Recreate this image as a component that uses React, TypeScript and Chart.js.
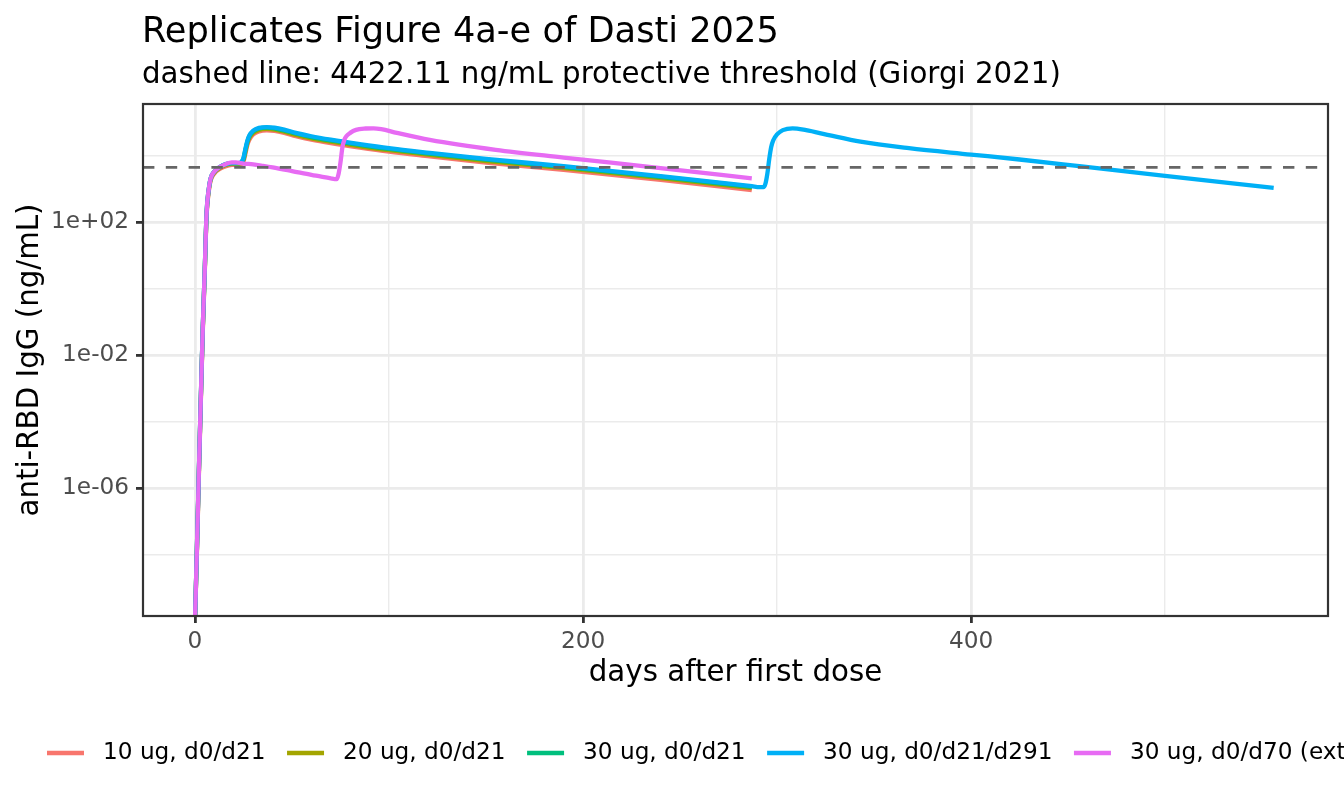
import React, { useEffect, useRef } from 'react'
import { Chart, registerables } from 'chart.js'

Chart.register(...registerables)

const FONT = '"DejaVu Sans", Verdana, sans-serif'

const TITLE = 'Replicates Figure 4a-e of Dasti 2025'
const SUBTITLE = 'dashed line: 4422.11 ng/mL protective threshold (Giorgi 2021)'
const X_TITLE = 'days after first dose'
const Y_TITLE = 'anti-RBD IgG (ng/mL)'

// protective threshold (ng/mL)
const THRESHOLD = 4422.11

const SERIES_NAMES = [
  '10 ug, d0/d21',
  '20 ug, d0/d21',
  '30 ug, d0/d21',
  '30 ug, d0/d21/d291',
  '30 ug, d0/d70 (extended interval)',
]
const SERIES_COLORS = ['#F8766D', '#A3A500', '#00BF7D', '#00B0F6', '#E76BF3']

// two-dose schedule, day 0 / day 21
const DAYS_D21 = [
  0, 1, 2, 3, 4, 5, 6, 7, 8, 10, 13, 16, 19, 21, 23, 24, 25, 26, 27, 28, 30, 33, 37, 41, 46, 52,
  60, 70, 85, 100, 121, 150, 190, 240, 287,
]
const IGG_10UG = [
  1e-10, 1.2e-8, 2.4e-6, 3.8e-4, 4.8e-2, 2.5, 160, 740, 1700, 2900, 4000, 4800, 5200, 5250, 5300,
  5500, 6600, 1.15e4, 2.1e4, 3.0e4, 4.3e4, 5.3e4, 5.7e4, 5.5e4, 4.8e4, 3.85e4, 3.0e4, 2.35e4,
  1.72e4, 1.3e4, 9400, 6100, 3700, 1850, 910,
]
const IGG_20UG = [
  1e-10, 1.4e-8, 2.8e-6, 4.4e-4, 5.6e-2, 2.9, 180, 820, 1850, 3100, 4300, 5200, 5600, 5600, 5650,
  6000, 7400, 1.35e4, 2.4e4, 3.4e4, 4.8e4, 5.9e4, 6.3e4, 6.0e4, 5.2e4, 4.2e4, 3.3e4, 2.6e4, 1.9e4,
  1.45e4, 1.04e4, 6800, 4150, 2080, 1040,
]
const IGG_30UG = [
  1e-10, 1.6e-8, 3.2e-6, 5.0e-4, 6.3e-2, 3.2, 200, 890, 2000, 3300, 4600, 5500, 5900, 5900, 5900,
  6300, 8000, 1.5e4, 2.6e4, 3.8e4, 5.3e4, 6.5e4, 6.9e4, 6.6e4, 5.7e4, 4.6e4, 3.6e4, 2.85e4, 2.1e4,
  1.58e4, 1.14e4, 7500, 4550, 2280, 1140,
]

// three-dose schedule, day 0 / day 21 / day 291
const DAYS_D291 = [
  0, 1, 2, 3, 4, 5, 6, 7, 8, 10, 13, 16, 19, 21, 23, 24, 25, 26, 27, 28, 30, 33, 37, 41, 46, 52,
  60, 70, 85, 100, 121, 150, 190, 240, 287, 291, 293, 294, 295, 296, 297, 298, 300, 303, 308, 315,
  326, 343, 368, 400, 425, 457, 500, 556,
]
const IGG_30UG_D291 = [
  1e-10, 1.6e-8, 3.2e-6, 5.0e-4, 6.3e-2, 3.2, 200, 890, 2000, 3300, 4600, 5500, 5900, 5900, 6000,
  6600, 8500, 1.6e4, 2.8e4, 4.0e4, 5.6e4, 6.8e4, 7.2e4, 6.9e4, 6.0e4, 4.8e4, 3.8e4, 3.0e4, 2.2e4,
  1.66e4, 1.2e4, 7900, 4800, 2400, 1200, 1120, 1120, 1400, 2800, 7900, 1.8e4, 2.8e4, 4.3e4, 5.8e4,
  6.6e4, 5.8e4, 4.2e4, 2.6e4, 1.66e4, 1.07e4, 7600, 4700, 2450, 1070,
]

// extended interval, day 0 / day 70
const DAYS_D70 = [
  0, 1, 2, 3, 4, 5, 6, 7, 8, 10, 13, 16, 19, 21, 25, 30, 35, 40, 50, 60, 70, 72, 73, 74, 75, 76,
  77, 78, 80, 83, 88, 92, 96, 104, 121, 155, 190, 240, 287,
]
const IGG_30UG_D70 = [
  1e-10, 1.6e-8, 3.2e-6, 5.0e-4, 6.3e-2, 3.2, 200, 890, 2000, 3300, 4600, 5600, 6200, 6200, 5750,
  5400, 4900, 4400, 3400, 2600, 2050, 1950, 1950, 2800, 6300, 1.8e4, 3.0e4, 3.8e4, 4.8e4, 5.9e4,
  6.5e4, 6.6e4, 6.2e4, 4.8e4, 2.95e4, 1.48e4, 8700, 4200, 2050,
]

const SERIES_DAYS = [DAYS_D21, DAYS_D21, DAYS_D21, DAYS_D291, DAYS_D70]
const SERIES_VALUES = [IGG_10UG, IGG_20UG, IGG_30UG, IGG_30UG_D291, IGG_30UG_D70]

const X_MIN = -26.8
const X_MAX = 584
const X_TICKS = [0, 100, 200, 300, 400, 500]
const X_MAJOR = [0, 200, 400]

const Y_MIN = 1.4e-10
const Y_MAX = 3.55e5
const Y_TICKS = [1e-8, 1e-6, 1e-4, 1e-2, 1, 1e2, 1e4]
const Y_MAJOR = [1e-6, 1e-2, 1e2]
const Y_MAJOR_LABELS = ['1e-06', '1e-02', '1e+02']

const TICK_COLOR = '#4D4D4D'
const GRID_COLOR = '#EBEBEB'
const AXIS_COLOR = '#333333'

// titles, axis titles, panel border and the bottom legend
const decorations = {
  id: 'decorations',
  afterDatasetsDraw(chart: Chart) {
    const { ctx, chartArea: a } = chart
    ctx.save()
    ctx.strokeStyle = AXIS_COLOR
    ctx.lineWidth = 2.2
    ctx.strokeRect(a.left, a.top, a.right - a.left, a.bottom - a.top)
    ctx.restore()
  },
  afterDraw(chart: Chart) {
    const { ctx, chartArea: a } = chart
    ctx.save()
    ctx.fillStyle = '#000'
    ctx.textAlign = 'left'
    ctx.textBaseline = 'alphabetic'
    ctx.font = `35.2px ${FONT}`
    ctx.fillText(TITLE, 142, 42)
    ctx.font = `29.3px ${FONT}`
    ctx.fillText(SUBTITLE, 142, 83)

    ctx.textAlign = 'center'
    ctx.fillText(X_TITLE, (a.left + a.right) / 2, 681)

    ctx.save()
    ctx.translate(30, (a.top + a.bottom) / 2)
    ctx.rotate(-Math.PI / 2)
    ctx.textBaseline = 'middle'
    ctx.fillText(Y_TITLE, 0, 0)
    ctx.restore()

    // legend row
    ctx.font = `23.2px ${FONT}`
    ctx.textAlign = 'left'
    ctx.textBaseline = 'middle'
    let x = 47
    const y = 753
    SERIES_NAMES.forEach((name, i) => {
      ctx.strokeStyle = SERIES_COLORS[i]
      ctx.lineWidth = 4.5
      ctx.lineCap = 'butt'
      ctx.beginPath()
      ctx.moveTo(x, y)
      ctx.lineTo(x + 37, y)
      ctx.stroke()
      ctx.fillStyle = '#000'
      ctx.fillText(name, x + 56, y)
      x += 56 + ctx.measureText(name).width + 21.5
    })
    ctx.restore()
  },
}

const App = () => {
  const chartRef = useRef<HTMLCanvasElement>(null)

  useEffect(() => {
    if (!chartRef.current) return

    const datasets: any[] = SERIES_NAMES.map((name, i) => ({
      label: name,
      data: SERIES_DAYS[i].map((d, j) => ({ x: d, y: SERIES_VALUES[i][j] })),
      borderColor: SERIES_COLORS[i],
      backgroundColor: SERIES_COLORS[i],
      borderWidth: 4.3,
      pointRadius: 0,
      cubicInterpolationMode: 'monotone',
      borderJoinStyle: 'round',
      fill: false,
      order: SERIES_NAMES.length - i,
    }))

    datasets.push({
      label: 'threshold',
      data: [
        { x: X_MIN, y: THRESHOLD },
        { x: X_MAX, y: THRESHOLD },
      ],
      borderColor: '#666666',
      borderWidth: 2.8,
      borderDash: [11.4, 11.4],
      pointRadius: 0,
      fill: false,
      order: 0,
    })

    const chart = new Chart(chartRef.current, {
      type: 'line',
      data: { datasets },
      plugins: [decorations],
      options: {
        animation: false,
        responsive: true,
        maintainAspectRatio: false,
        events: [],
        layout: { padding: { top: 104, right: 16, bottom: 0, left: 0 } },
        plugins: {
          legend: { display: false },
          tooltip: { enabled: false },
          title: { display: false },
        },
        scales: {
          x: {
            type: 'linear',
            min: X_MIN,
            max: X_MAX,
            afterBuildTicks: (scale: any) => {
              scale.ticks = X_TICKS.map((v) => ({ value: v }))
            },
            afterFit: (scale: any) => {
              scale.height = 190
            },
            border: { display: false },
            grid: {
              color: GRID_COLOR,
              lineWidth: (c: any) => (X_MAJOR.includes(c.tick?.value) ? 2.8 : 1.4),
              drawTicks: true,
              tickLength: 7,
              tickWidth: 2.8,
              tickColor: (c: any) => (X_MAJOR.includes(c.tick?.value) ? AXIS_COLOR : 'rgba(0,0,0,0)'),
            },
            ticks: {
              autoSkip: false,
              maxRotation: 0,
              padding: 5,
              color: TICK_COLOR,
              font: { family: FONT, size: 23.2 },
              callback: (v: any) => (X_MAJOR.includes(v) ? String(v) : ''),
            },
          },
          y: {
            type: 'logarithmic',
            min: Y_MIN,
            max: Y_MAX,
            afterBuildTicks: (scale: any) => {
              scale.ticks = Y_TICKS.map((v) => ({ value: v }))
            },
            afterFit: (scale: any) => {
              scale.width = 143
            },
            border: { display: false },
            grid: {
              color: GRID_COLOR,
              lineWidth: (c: any) => (Y_MAJOR.includes(c.tick?.value) ? 2.8 : 1.4),
              drawTicks: true,
              tickLength: 7,
              tickWidth: 2.8,
              tickColor: (c: any) => (Y_MAJOR.includes(c.tick?.value) ? AXIS_COLOR : 'rgba(0,0,0,0)'),
            },
            ticks: {
              autoSkip: false,
              padding: 7,
              color: TICK_COLOR,
              font: { family: FONT, size: 23.2 },
              callback: (v: any) => {
                const k = Y_MAJOR.indexOf(Number(v))
                return k >= 0 ? Y_MAJOR_LABELS[k] : ''
              },
            },
          },
        },
      },
    })

    return () => {
      chart.destroy()
    }
  }, [])

  return (
    <div
      style={{
        position: 'fixed',
        left: 0,
        top: 0,
        width: 1344,
        height: 806,
        background: '#ffffff',
      }}
    >
      <canvas ref={chartRef}></canvas>
    </div>
  )
}

export default App
